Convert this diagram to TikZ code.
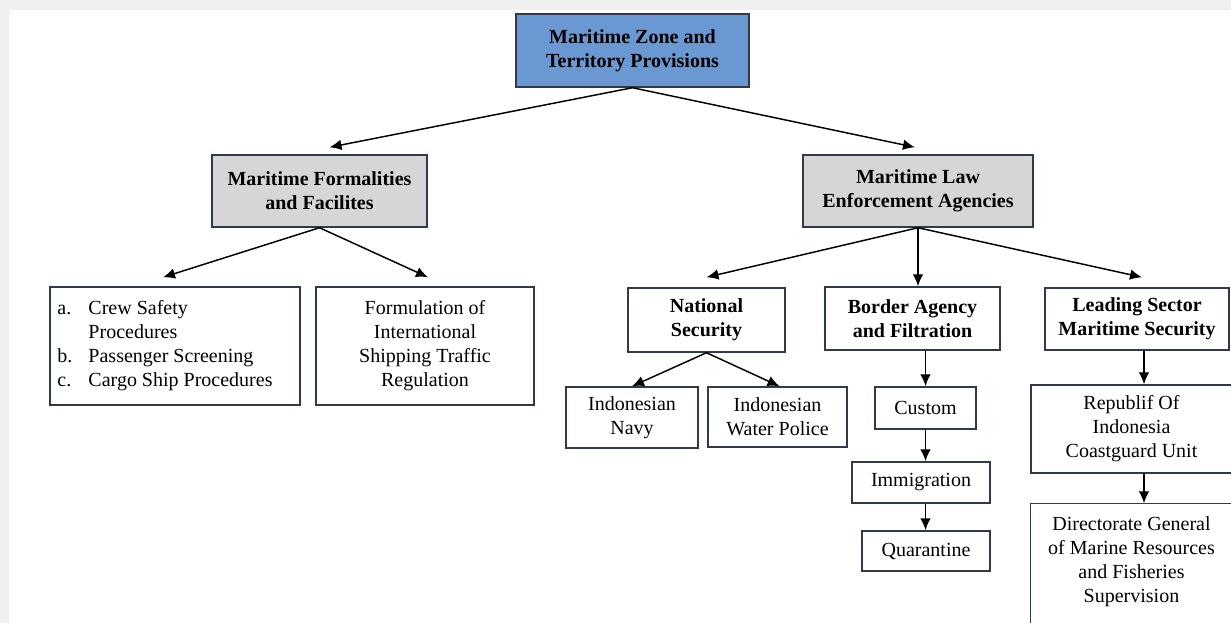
\documentclass[tikz,border=0pt]{standalone}
\usepackage{fontspec}
\setmainfont{Liberation Serif}
\usepackage{tikz}
\usetikzlibrary{arrows.meta,calc}

\definecolor{zoneblue}{RGB}{106,152,210}
\definecolor{headgray}{RGB}{214,214,214}
\definecolor{boxline}{RGB}{48,58,72}
\definecolor{pagegray}{RGB}{240,240,240}

\begin{document}
\begin{tikzpicture}[x=0.75pt, y=-0.75pt,
  box/.style={draw=boxline, line width=1.1pt, inner sep=0pt, align=center,
    font=\fontsize{15}{18}\selectfont},
  head/.style={box, font=\fontsize{15}{18}\selectfont\bfseries},
  boxsize/.style 2 args={minimum width=#1*0.75pt, minimum height=#2*0.75pt},
  arr/.style={-{Latex[length=9pt,width=8pt]}, line width=1.1pt}]

% Page
\fill[pagegray] (0, 0) rectangle (1231, 623);
\fill[white] (9, 10) rectangle (1231, 623);
\useasboundingbox (0, 0) rectangle (1231, 623);
\clip (0, 0) rectangle (1231, 623);

% Top level
\node [head, fill=zoneblue, boxsize={233}{73}] (zone) at (632.5, 50.5)
  {Maritime Zone and\\Territory Provisions};

% Second level
\node [head, fill=headgray, boxsize={215}{72}] (formal) at (319.5, 191)
  {Maritime Formalities\\and Facilites};
\node [head, fill=headgray, boxsize={230}{72}] (law) at (918, 191)
  {Maritime Law\\Enforcement Agencies};

% Formalities branch
\node [box, boxsize={250}{118}] (crew) at (175, 346)
  {\begin{tabular}{@{}l@{\hspace{12pt}}l@{\hspace{15pt}}}
    a. & Crew Safety\\
       & Procedures\\
    b. & Passenger Screening\\
    c. & Cargo Ship Procedures
  \end{tabular}};
\node [box, boxsize={218}{118}] (traffic) at (425, 346)
  {Formulation of\\International\\Shipping Traffic\\Regulation};

% Law enforcement branch
\node [head, boxsize={157}{64}] (natsec) at (706.5, 320)
  {National\\Security};
\node [head, boxsize={175}{63}] (border) at (912.5, 318.5)
  {Border Agency\\and Filtration};
\node [head, boxsize={184}{62}] (leading) at (1137, 319)
  {Leading Sector\\Maritime Security};

% National security
\node [box, boxsize={132}{61}] (navy) at (632, 417.5)
  {Indonesian\\Navy};
\node [box, boxsize={139}{60}] (police) at (777.5, 417)
  {Indonesian\\Water Police};

% Border agency
\node [box, boxsize={101}{42}] (custom) at (925.5, 408) {Custom};
\node [box, boxsize={138}{41}] (immig) at (921, 482.5) {Immigration};
\node [box, boxsize={128}{40}] (quaran) at (926, 551) {Quarantine};

% Leading sector
\node [box, boxsize={201}{88}] (coast) at (1131.5, 429)
  {Republif Of\\Indonesia\\Coastguard Unit};
\node [box, draw=none, boxsize={201}{116}] (fish) at (1131.5, 562)
  {Directorate General\\of Marine Resources\\and Fisheries\\Supervision};
\draw [boxline, line width=1.1pt] ($(fish.south west)+(0, 40)$) -- (fish.north west) -- (fish.north east);

\coordinate (lead down) at ($(leading.south)+(7, 0)$);

% Arrows
\draw [arr] (zone.south) -- ($(formal.north)+(10, -7)$);
\draw [arr] (zone.south) -- ($(law.north)+(-3, -7)$);

\draw [arr] (formal.south) -- ($(crew.north)+(-12, -9)$);
\draw [arr] (formal.south) -- ($(traffic.north)+(3, -9)$);

\draw [arr] (law.south) -- ($(natsec.north)+(0, -10)$);
\draw [arr] (law.south) -- (law.south |- border.north);
\draw [arr] (law.south) -- ($(leading.north)+(5, -10)$);

\draw [arr] (natsec.south) -- (navy.north);
\draw [arr] (natsec.south) -- ($(police.north)+(2, 0)$);

\draw [arr] (custom.north |- border.south) -- (custom.north);
\draw [arr] (custom.south) -- (custom.south |- immig.north);
\draw [arr] (custom.south |- immig.south) -- (custom.south |- quaran.north);

\draw [arr] (lead down) -- (lead down |- coast.north);
\draw [arr] (lead down |- coast.south) -- (lead down |- fish.north);
\end{tikzpicture}
\end{document}
